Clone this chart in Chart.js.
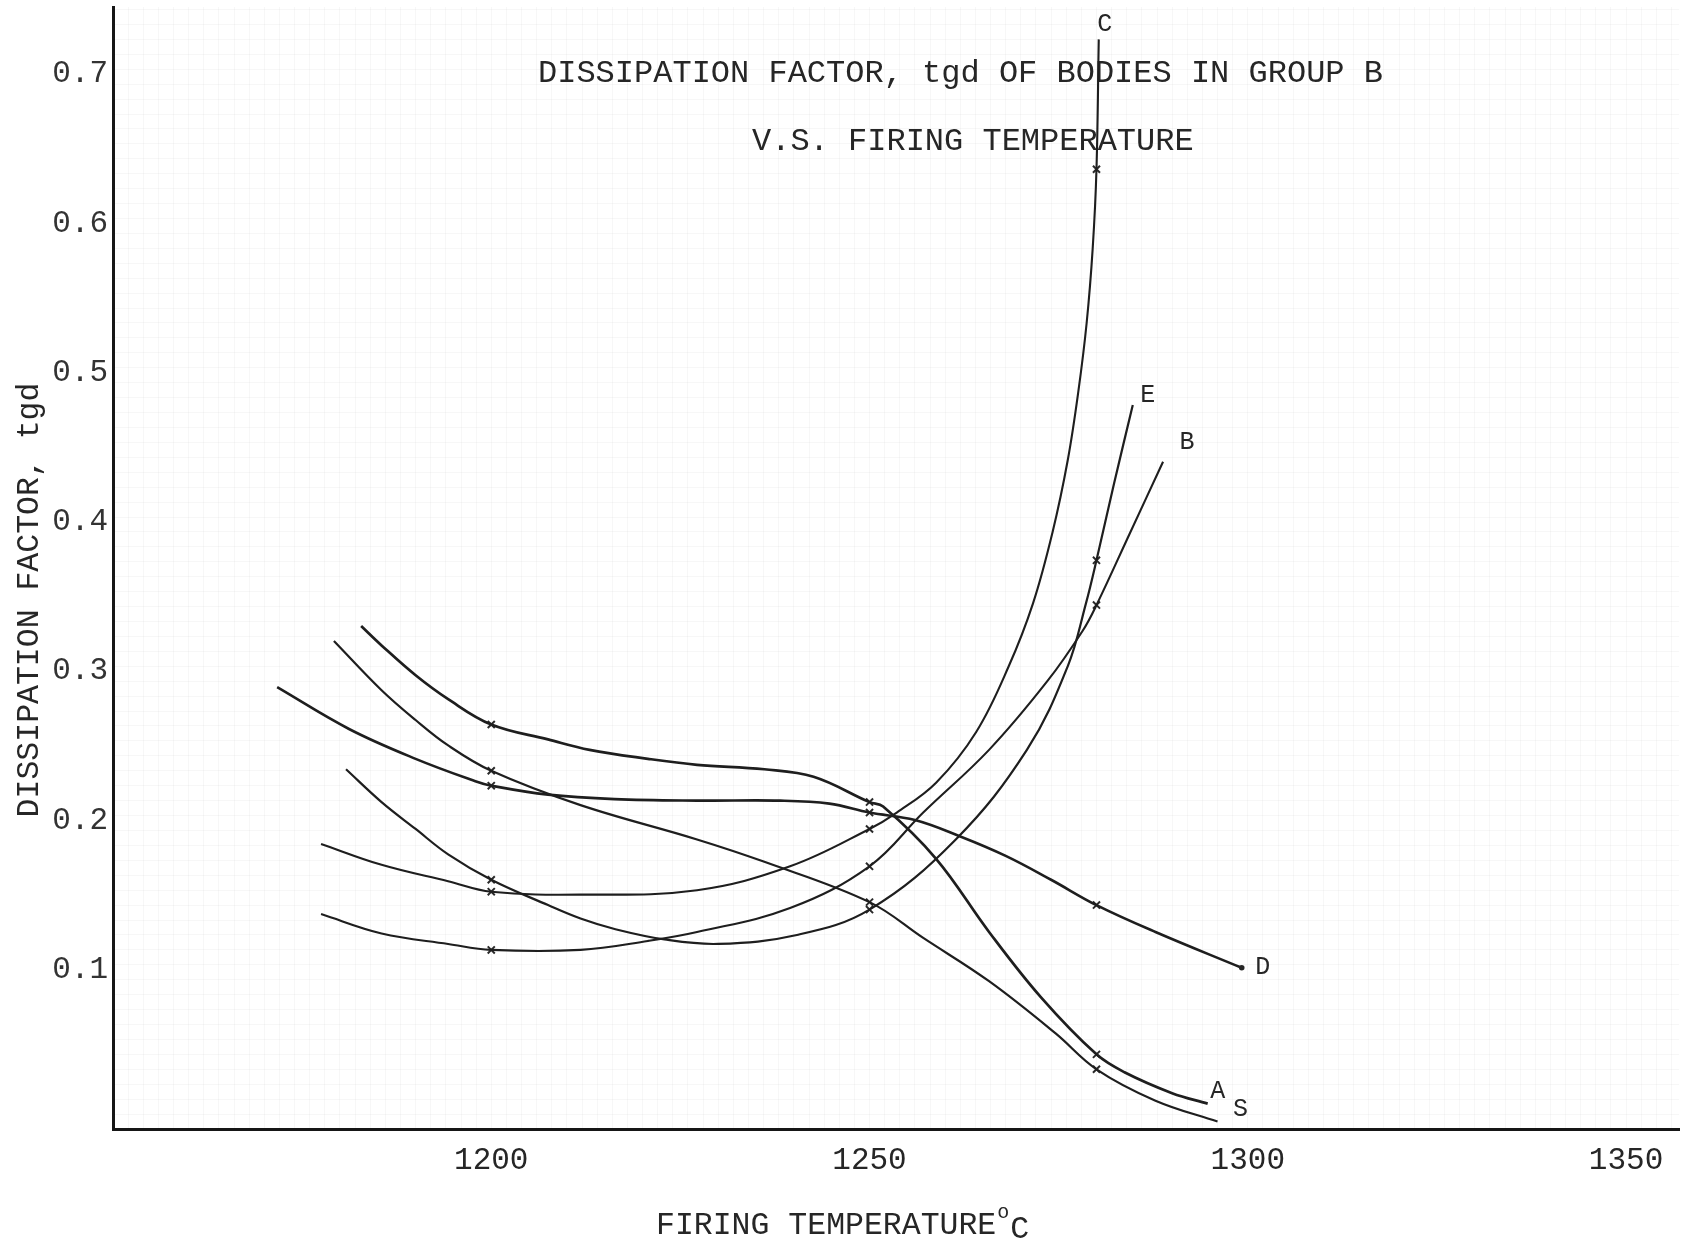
<!DOCTYPE html>
<html>
<head>
<meta charset="utf-8">
<title>Dissipation factor vs firing temperature</title>
<script src="https://cdn.jsdelivr.net/npm/chart.js@4.4.1/dist/chart.umd.min.js"></script>
<style>
  html, body { margin: 0; padding: 0; background: #ffffff; overflow: hidden; }
  #wrap { width: 1686px; height: 1239px; }
</style>
</head>
<body>
<div id="wrap"><canvas id="chart" width="1686" height="1239"></canvas></div>
<script>
// ---- data -------------------------------------------------------------
// Measured firing temperatures (deg C) and tg d at those temperatures.
const firingTemps = [1200, 1250, 1280];
const tgdA = [0.271, 0.219, 0.050];
const tgdS = [0.240, 0.152, 0.040];
const tgdB = [0.120, 0.176, 0.351];
const tgdC = [0.159, 0.201, 0.643];
const tgdD = [0.230, 0.212, 0.150];
const tgdE = [0.167, 0.147, 0.381];

// Hand-faired curve through each body's points (extra points along the curve).
const curveA_t = [1182.8, 1185.5, 1190.0, 1194.3, 1207.5, 1213.0, 1220.7, 1227.2, 1236.1, 1242.6, 1251.8, 1258.8, 1265.8, 1272.7, 1283.7, 1290.0, 1294.7];
const curveA_v = [0.337, 0.324, 0.304, 0.288, 0.261, 0.254, 0.248, 0.244, 0.241, 0.236, 0.216, 0.181, 0.132, 0.088, 0.038, 0.024, 0.017];
const curveS_t = [1179.2, 1185.5, 1190.0, 1194.3, 1211.8, 1227.2, 1236.1, 1257.1, 1265.8, 1274.6, 1287.8, 1296.0];
const curveS_v = [0.327, 0.294, 0.274, 0.257, 0.217, 0.194, 0.179, 0.128, 0.099, 0.064, 0.019, 0.005];
const curveB_t = [1177.5, 1185.5, 1194.3, 1211.8, 1220.7, 1227.2, 1239.5, 1257.1, 1265.8, 1273.5, 1278.2, 1284.4, 1288.8];
const curveB_v = [0.144, 0.131, 0.124, 0.120, 0.126, 0.132, 0.148, 0.212, 0.254, 0.300, 0.334, 0.399, 0.447];
const curveC_t = [1177.5, 1185.5, 1194.3, 1211.8, 1227.2, 1239.5, 1253.6, 1258.8, 1264.1, 1268.4, 1271.6, 1274.2, 1276.2, 1277.6, 1278.7, 1279.5, 1280.3];
const curveC_v = [0.191, 0.177, 0.166, 0.157, 0.160, 0.176, 0.212, 0.232, 0.266, 0.310, 0.352, 0.400, 0.448, 0.494, 0.540, 0.590, 0.730];
const curveD_t = [1171.7, 1181.2, 1190.0, 1197.9, 1207.5, 1216.3, 1227.2, 1238.2, 1244.7, 1256.0, 1262.0, 1268.0, 1274.0, 1287.8, 1299.2];
const curveD_v = [0.296, 0.268, 0.248, 0.233, 0.224, 0.221, 0.220, 0.220, 0.218, 0.207, 0.196, 0.183, 0.167, 0.132, 0.108];
const curveE_t = [1180.8, 1185.5, 1190.0, 1194.3, 1207.5, 1211.8, 1216.3, 1222.9, 1230.0, 1240.4, 1261.4, 1270.8, 1276.2, 1278.6, 1282.3, 1284.8];
const curveE_v = [0.241, 0.219, 0.201, 0.184, 0.150, 0.141, 0.134, 0.127, 0.124, 0.130, 0.194, 0.254, 0.310, 0.352, 0.432, 0.485];

// Axis tick labels
const xTickLabels = [1200, 1250, 1300, 1350];
const yTickLabels = ['0.1', '0.2', '0.3', '0.4', '0.5', '0.6', '0.7'];

// ---- styling ----------------------------------------------------------
const MONO = "'Liberation Mono', 'DejaVu Sans Mono', monospace";
const INK = '#1e1e1e';
const TEXT = '#262626';
const bodies = [
  { name: 'A', marks: tgdA, ct: curveA_t, cv: curveA_v, width: 2.7, off: [10, -12] },
  { name: 'S', marks: tgdS, ct: curveS_t, cv: curveS_v, width: 2.2, off: [23, -12] },
  { name: 'B', marks: tgdB, ct: curveB_t, cv: curveB_v, width: 2.1, off: [24, -19] },
  { name: 'C', marks: tgdC, ct: curveC_t, cv: curveC_v, width: 2.1, off: [6, -15] },
  { name: 'D', marks: tgdD, ct: curveD_t, cv: curveD_v, width: 2.6, off: [21, 0] },
  { name: 'E', marks: tgdE, ct: curveE_t, cv: curveE_v, width: 2.2, off: [15, -10] }
];

function curvePoints(b) {
  const pts = firingTemps.map((t, i) => ({ x: t, y: b.marks[i] }))
    .concat(b.ct.map((t, i) => ({ x: t, y: b.cv[i] })));
  pts.sort((p, q) => p.x - q.x);
  return pts;
}

const datasets = [];
bodies.forEach(b => {
  datasets.push({
    label: 'Body ' + b.name,
    data: curvePoints(b),
    borderColor: INK,
    borderWidth: b.width,
    pointRadius: 0,
    fill: false,
    tension: 0.38
  });
  datasets.push({
    label: 'Body ' + b.name + ' measured',
    data: firingTemps.map((t, i) => ({ x: t, y: b.marks[i] })),
    showLine: false,
    pointStyle: 'crossRot',
    pointRadius: 5,
    pointBorderWidth: 2,
    pointBorderColor: '#2a2a2a',
    pointBackgroundColor: '#2a2a2a'
  });
});

// Typed captions, axis titles and curve letters
const typedText = {
  id: 'typedText',
  beforeDatasetsDraw(chart) {
    const ctx = chart.ctx;
    ctx.save();
    ctx.fillStyle = TEXT;
    ctx.font = '32px ' + MONO;
    ctx.textAlign = 'left';
    ctx.textBaseline = 'alphabetic';
    ctx.fillText('DISSIPATION FACTOR, tgd OF BODIES IN GROUP B', 538, 82);
    ctx.fillText('V.S. FIRING TEMPERATURE', 752, 150);
    // x axis title
    ctx.font = '31.5px ' + MONO;
    ctx.fillText('FIRING TEMPERATURE', 656, 1234);
    const w = ctx.measureText('FIRING TEMPERATURE').width;
    ctx.font = '20px ' + MONO;
    ctx.fillText('o', 656 + w + 1, 1218);
    ctx.font = '31.5px ' + MONO;
    ctx.fillText('C', 656 + w + 14, 1238);
    // y axis title
    ctx.translate(30, 600);
    ctx.rotate(-Math.PI / 2);
    ctx.textAlign = 'center';
    ctx.textBaseline = 'middle';
    ctx.fillText('DISSIPATION FACTOR, tgd', 0, 0);
    ctx.restore();
  },
  afterDatasetsDraw(chart) {
    const ctx = chart.ctx;
    const xs = chart.scales.x, ys = chart.scales.y;
    ctx.save();
    ctx.fillStyle = TEXT;
    ctx.font = '25px ' + MONO;
    ctx.textAlign = 'center';
    ctx.textBaseline = 'middle';
    bodies.forEach(b => {
      const last = b.ct.length - 1;
      const px = xs.getPixelForValue(b.ct[last]);
      const py = ys.getPixelForValue(b.cv[last]);
      ctx.fillText(b.name, px + b.off[0], py + b.off[1]);
    });
    // end dot of curve D
    const dl = bodies[4].ct.length - 1;
    ctx.beginPath();
    ctx.arc(xs.getPixelForValue(bodies[4].ct[dl]), ys.getPixelForValue(bodies[4].cv[dl]), 2.8, 0, Math.PI * 2);
    ctx.fill();
    ctx.restore();
  }
};

new Chart(document.getElementById('chart'), {
  type: 'line',
  data: { datasets },
  plugins: [typedText],
  options: {
    responsive: false,
    devicePixelRatio: 1,
    animation: false,
    layout: { padding: 0 },
    plugins: { legend: { display: false }, tooltip: { enabled: false } },
    scales: {
      x: {
        type: 'linear',
        position: 'bottom',
        min: 1150,
        max: 1357,
        afterBuildTicks(s) {
          const t = [];
          for (let v = 1150; v <= 1356; v += 2) t.push({ value: v });
          s.ticks = t;
        },
        afterFit(s) { s.height = 110; s.paddingLeft = 0; s.paddingRight = 0; },
        ticks: {
          autoSkip: false,
          maxRotation: 0,
          minRotation: 0,
          padding: 13,
          color: TEXT,
          font: { family: MONO, size: 31 },
          callback: v => xTickLabels.includes(v) ? String(v) : ''
        },
        grid: { color: 'rgba(0,0,0,0.032)', lineWidth: 1, drawTicks: false },
        border: { color: '#161616', width: 3 }
      },
      y: {
        type: 'linear',
        min: 0,
        max: 0.7517,
        afterBuildTicks(s) {
          const t = [];
          for (let i = 0; i <= 75; i++) t.push({ value: i / 100 });
          s.ticks = t;
        },
        afterFit(s) { s.width = 113; s.paddingTop = 0; s.paddingBottom = 0; },
        ticks: {
          autoSkip: false,
          padding: 5,
          labelOffset: -10,
          color: '#333333',
          font: { family: MONO, size: 31 },
          callback: v => {
            const s = (Math.round(v * 100) % 10 === 0) ? v.toFixed(1) : '';
            return yTickLabels.includes(s) ? s : '';
          }
        },
        grid: { color: 'rgba(0,0,0,0.032)', lineWidth: 1, drawTicks: false },
        border: { color: '#161616', width: 3 }
      }
    }
  }
});
</script>
</body>
</html>
